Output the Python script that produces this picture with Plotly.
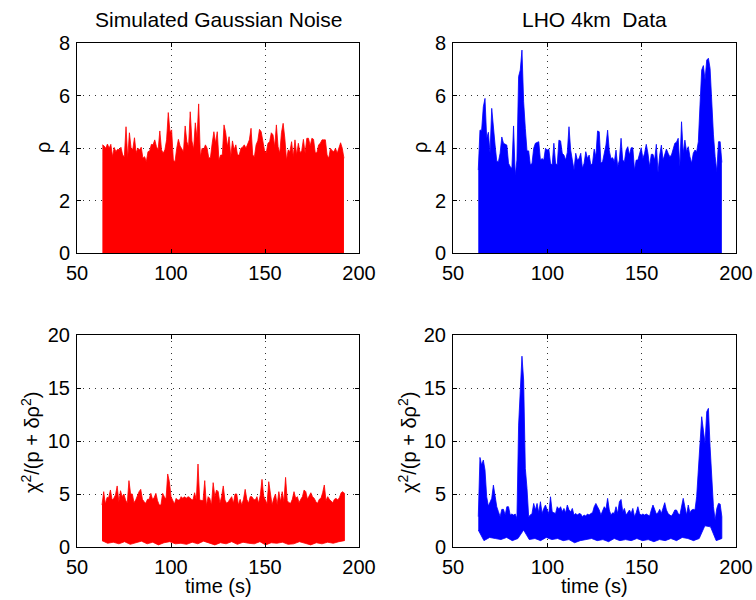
import numpy as np
import plotly.graph_objects as go

# ---------------- data ----------------
# upper envelope of rho, simulated Gaussian noise
rho_gauss = [
    4.12, 4.08, 3.99, 4.15, 3.99, 4.14, 3.67, 4.02, 3.86, 3.95,
    3.93, 4.03, 3.73, 3.67, 4.81, 3.61, 4.58, 3.99, 3.95, 4.39,
    3.82, 3.99, 3.93, 4.03, 3.61, 3.67, 3.48, 3.86, 3.89, 4.14,
    4.12, 4.31, 4.05, 3.93, 4.65, 3.93, 3.80, 3.93, 4.31, 5.35,
    4.62, 4.69, 3.54, 3.48, 3.99, 4.33, 4.08, 3.95, 3.86, 4.84,
    4.24, 4.05, 5.38, 4.27, 3.95, 4.96, 4.37, 5.68, 3.67, 3.99,
    3.95, 4.12, 3.99, 3.61, 3.65, 4.18, 4.62, 4.18, 4.62, 3.54,
    3.73,
    3.73, 4.88, 4.58, 4.05, 4.43, 3.67, 4.27, 3.93, 4.12, 3.73,
    3.73, 3.99, 4.03, 4.12, 3.99, 4.18, 4.31, 4.75, 3.73, 3.67,
    4.12, 4.28, 4.71, 4.62, 4.18, 3.90, 3.82, 4.18, 4.24, 4.58,
    4.50, 4.05, 4.88, 4.05, 3.80, 4.58, 4.94, 4.37, 3.54, 3.93,
    3.86, 4.24, 3.67, 4.31, 3.73, 4.18, 3.82, 3.90, 4.33, 3.80,
    4.37, 4.37, 4.08, 4.37, 4.33, 3.82, 3.82, 4.12, 4.18, 4.31,
    4.31, 4.31, 3.73, 3.61, 3.99, 3.90, 3.86, 3.99, 3.80, 4.03,
    4.20, 3.99, 3.61,
]

# upper envelope of rho, LHO 4km data
rho_lho = [
    3.16, 4.68, 4.68, 5.57, 5.89, 4.37, 4.60, 3.80, 5.51, 4.65,
    4.11, 3.50, 3.48, 3.80, 4.42, 4.18, 4.14, 4.11, 3.42, 3.29,
    3.23, 4.84, 2.95, 3.54, 6.72, 6.97, 7.73, 5.76, 4.75, 3.89,
    3.89, 3.35, 3.42, 3.99, 4.18, 4.22, 4.24, 3.54, 3.60, 3.54,
    3.99, 3.92, 3.96, 3.42, 3.35, 4.18, 3.42, 3.35, 4.30, 4.27,
    3.80, 3.73, 3.54, 3.83, 4.81, 3.92, 3.48, 3.16, 3.80, 3.54,
    3.60, 3.80, 3.23, 3.42, 3.86, 3.60, 3.73, 3.35, 3.42, 3.96,
    3.67, 4.65, 4.62,
    3.42, 3.48, 3.80, 4.11, 4.68, 3.89, 3.60, 3.63, 3.48, 3.92,
    3.29, 3.54, 4.37, 3.54, 3.48, 3.92, 4.05, 3.73, 4.01, 4.01,
    3.16, 3.54, 3.54, 3.80, 4.01, 3.60, 3.80, 4.14, 3.80, 3.29,
    3.76, 3.76, 3.54, 4.14, 3.07, 3.73, 4.11, 3.54, 3.80, 3.96,
    3.80, 3.67, 3.73, 3.99, 4.18, 4.22, 4.37, 3.29, 5.00, 3.80,
    4.30, 3.86, 4.05, 3.67, 3.42, 3.80, 3.92, 3.86, 4.24, 5.64,
    6.97, 7.14, 6.59, 7.35, 7.42, 7.03, 5.57, 4.50, 3.67, 3.10,
    4.24, 4.24, 3.45,
]

# chi^2 band, simulated Gaussian noise (upper and lower envelopes)
chi_gauss_hi = [
    3.96, 5.22, 4.05, 4.68, 4.68, 5.38, 4.43, 4.59, 4.91, 5.76,
    4.28, 5.31, 4.75, 5.00, 4.43, 4.12, 6.26, 5.00, 5.00, 4.18,
    4.43, 4.91, 5.22, 5.44, 4.50, 4.28, 4.12, 4.50, 4.50, 5.06,
    4.50, 4.68, 5.06, 4.37, 3.96, 3.96, 5.06, 4.75, 4.50, 6.89,
    6.16, 4.75, 4.43, 4.05, 4.59, 4.43, 4.43, 4.75, 4.59, 4.75,
    4.59, 4.75, 4.68, 4.50, 4.43, 5.12, 4.43, 7.83, 4.43, 4.37,
    4.37, 6.26, 3.90, 4.75, 4.59, 3.96, 6.07, 4.75, 5.38, 5.22,
    4.12, 4.75, 5.76, 4.43,
    4.12, 4.28, 4.50, 4.75, 4.12, 5.00, 5.00, 3.96, 4.50, 3.96,
    4.50, 5.44, 4.50, 4.12, 4.75, 4.75, 4.50, 4.43, 4.75, 4.12,
    4.91, 6.38, 4.81, 4.50, 4.05, 6.16, 4.75, 3.96, 4.59, 5.00,
    3.96, 5.22, 4.28, 5.22, 4.28, 6.57, 4.37, 4.18, 4.12, 4.50,
    5.22, 4.59, 4.75, 4.18, 4.50, 4.75, 5.38, 5.22, 4.50, 4.81,
    5.12, 4.75, 4.59, 4.28, 4.12, 4.50, 4.59, 5.12, 5.85, 4.37,
    4.75, 4.50, 4.37, 4.18, 4.50, 4.59, 4.43, 4.68, 5.12, 5.22,
    5.06,
]
chi_gauss_lo = [
    0.60, 0.35, 0.45, 0.30, 0.50, 0.25, 0.40, 0.55, 0.30, 0.45,
    0.20, 0.40, 0.50, 0.30, 0.35, 0.25, 0.45, 0.30, 0.55, 0.35,
    0.20, 0.40, 0.30, 0.50, 0.25, 0.45, 0.35, 0.30, 0.50, 0.20,
    0.40, 0.35, 0.45, 0.25, 0.30, 0.50, 0.35, 0.20, 0.40, 0.30,
    0.45, 0.35, 0.50, 0.60,
]

# chi^2 band, LHO 4km data (upper and lower envelopes)
chi_lho_hi = [
    2.86, 8.45, 7.73, 8.20, 7.26, 4.74, 3.86, 4.27, 4.59, 5.84,
    4.74, 3.80, 3.33, 2.86, 3.55, 3.55, 3.01, 3.80, 3.80, 3.01,
    3.11, 3.01, 3.11, 2.70, 11.50, 14.81, 18.00, 15.75, 7.42, 5.53,
    2.86, 3.01, 3.17, 4.11, 3.49, 4.11, 3.23, 4.27, 3.17, 3.64,
    3.96, 3.49, 3.17, 4.74, 3.33, 3.23, 3.17, 3.80, 3.55, 3.80,
    3.33, 3.64, 3.23, 3.96, 3.49, 3.33, 3.64, 3.01, 3.17, 3.01,
    3.17, 3.11, 2.86, 3.01, 2.92, 3.11, 3.01, 3.17, 3.23, 3.80,
    4.11, 3.80, 3.49,
    3.01, 3.49, 3.80, 3.55, 4.59, 3.49, 3.01, 3.23, 3.17, 3.80,
    3.17, 4.27, 4.49, 3.33, 3.64, 3.01, 3.23, 3.49, 3.17, 3.64,
    2.86, 3.23, 3.80, 3.17, 3.01, 3.11, 3.01, 3.11, 3.01, 2.92,
    3.49, 3.96, 3.55, 3.11, 3.23, 3.55, 3.17, 3.80, 4.18, 3.49,
    3.17, 3.01, 2.92, 3.17, 3.49, 3.49, 3.17, 3.01, 3.80, 4.59,
    3.80, 3.01, 3.96, 3.23, 3.49, 3.55, 3.49, 4.74, 7.26, 10.40,
    12.29, 11.03, 9.77, 12.76, 13.08, 9.46, 6.32, 3.80, 2.54, 3.64,
    4.11, 4.05, 2.86,
]
chi_lho_lo = [
    1.60, 0.60, 0.90, 0.80, 0.70, 0.90, 0.60, 0.80, 1.60, 0.70,
    0.80, 0.60, 0.90, 0.70, 0.80, 0.60, 0.70, 0.40, 0.60, 0.70,
    0.80, 0.60, 0.70, 0.50, 0.80, 0.60, 0.70, 0.60, 0.80, 0.60,
    0.70, 0.50, 0.70, 0.60, 0.80, 0.60, 0.90, 0.80, 0.60, 0.80,
    2.00, 1.90, 0.60, 0.80,
]

# sampling times (s) of each envelope
t_rho_gauss = np.linspace(63.5, 192.0, len(rho_gauss))
t_rho_lho = np.linspace(63.4, 192.5, len(rho_lho))
t_chi_gauss_hi = np.linspace(63.3, 192.3, len(chi_gauss_hi))
t_chi_gauss_lo = np.linspace(63.3, 192.3, len(chi_gauss_lo))
t_chi_lho_hi = np.linspace(63.4, 192.5, len(chi_lho_hi))
t_chi_lho_lo = np.linspace(63.4, 192.5, len(chi_lho_lo))

titles = ["Simulated Gaussian Noise", "LHO 4km  Data"]
x_ticks = [50, 100, 150, 200]
rho_ticks = [0, 2, 4, 6, 8]
chi_ticks = [0, 5, 10, 15, 20]

RED = "#ff0000"
BLUE = "#0000ff"
FONT = "Liberation Sans, Arial, Helvetica, sans-serif"
W, H = 756, 600
TICK_SIZE = 20
LABEL_SIZE = 20
TITLE_SIZE = 21

fig = go.Figure()

# top panels: rho filled to zero
fig.add_trace(go.Scatter(x=t_rho_gauss, y=rho_gauss, mode="lines",
                         line=dict(color=RED, width=0.8), fill="tozeroy",
                         fillcolor=RED, xaxis="x", yaxis="y", showlegend=False))
fig.add_trace(go.Scatter(x=t_rho_lho, y=rho_lho, mode="lines",
                         line=dict(color=BLUE, width=0.8), fill="tozeroy",
                         fillcolor=BLUE, xaxis="x2", yaxis="y2", showlegend=False))

# bottom panels: chi^2 band between lower and upper envelopes
def band(t_hi, hi, t_lo, lo):
    xs = list(t_hi) + list(t_lo[::-1])
    ys = list(hi) + list(lo[::-1])
    return xs, ys

bx, by = band(t_chi_gauss_hi, chi_gauss_hi, t_chi_gauss_lo, chi_gauss_lo)
fig.add_trace(go.Scatter(x=bx, y=by, mode="lines", line=dict(color=RED, width=0.8),
                         fill="toself", fillcolor=RED, xaxis="x3", yaxis="y3",
                         showlegend=False))
bx, by = band(t_chi_lho_hi, chi_lho_hi, t_chi_lho_lo, chi_lho_lo)
fig.add_trace(go.Scatter(x=bx, y=by, mode="lines", line=dict(color=BLUE, width=0.8),
                         fill="toself", fillcolor=BLUE, xaxis="x4", yaxis="y4",
                         showlegend=False))

left_dom = [77 / W, 359 / W]
right_dom = [453 / W, 736 / W]
top_dom = [1 - 253 / H, 1 - 43 / H]
bot_dom = [1 - 547 / H, 1 - 335 / H]

common = dict(showline=True, linecolor="black", linewidth=1, mirror="ticks",
              ticks="inside", ticklen=4, tickcolor="black", automargin=False,
              showgrid=True, gridcolor="#333333", griddash="1px,5px", gridwidth=1,
              zeroline=False, tickfont=dict(family=FONT, size=TICK_SIZE, color="black"))

def xax(dom, anchor):
    return dict(common, domain=dom, anchor=anchor, range=[50, 200],
                tickvals=x_ticks, ticktext=[str(v) for v in x_ticks],
                ticklabelstandoff=2)

def yax(dom, anchor, rng, ticks):
    return dict(common, domain=dom, anchor=anchor, range=rng,
                tickvals=ticks, ticktext=[str(v) for v in ticks],
                ticklabelstandoff=2)

fig.update_layout(
    width=W, height=H, margin=dict(l=0, r=0, t=0, b=0, autoexpand=False),
    paper_bgcolor="white", plot_bgcolor="white",
    font=dict(family=FONT, size=TICK_SIZE, color="black"),
    xaxis=xax(left_dom, "y"), yaxis=yax(top_dom, "x", [0, 8], rho_ticks),
    xaxis2=xax(right_dom, "y2"), yaxis2=yax(top_dom, "x2", [0, 8], rho_ticks),
    xaxis3=xax(left_dom, "y3"), yaxis3=yax(bot_dom, "x3", [0, 20], chi_ticks),
    xaxis4=xax(right_dom, "y4"), yaxis4=yax(bot_dom, "x4", [0, 20], chi_ticks),
)

ann = []
for cx, txt in zip([218, 594], titles):
    ann.append(dict(text=txt, x=cx / W, y=1 - 20 / H, xref="paper", yref="paper",
                    xanchor="center", yanchor="middle", showarrow=False,
                    font=dict(family=FONT, size=TITLE_SIZE, color="black")))
for cx in [43, 420]:
    ann.append(dict(text="ρ", x=cx / W, y=1 - 148 / H, xref="paper", yref="paper",
                    xanchor="center", yanchor="middle", showarrow=False, textangle=-90,
                    font=dict(family=FONT, size=LABEL_SIZE, color="black")))
for cx in [30, 407]:
    ann.append(dict(text="χ<sup>2</sup>/(p + δρ<sup>2</sup>)", x=cx / W, y=1 - 443 / H,
                    xref="paper", yref="paper", xanchor="center", yanchor="middle",
                    showarrow=False, textangle=-90,
                    font=dict(family=FONT, size=LABEL_SIZE, color="black")))
for cx in [218, 594]:
    ann.append(dict(text="time (s)", x=cx / W, y=1 - 586 / H, xref="paper", yref="paper",
                    xanchor="center", yanchor="middle", showarrow=False,
                    font=dict(family=FONT, size=LABEL_SIZE, color="black")))
fig.update_layout(annotations=ann)

fig.write_html("out.html")
